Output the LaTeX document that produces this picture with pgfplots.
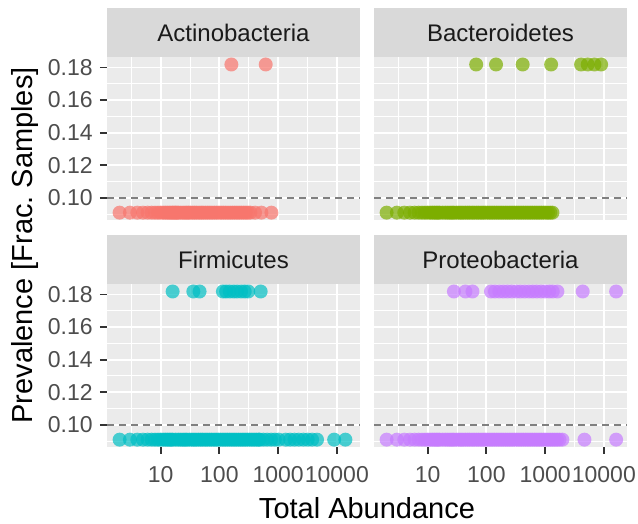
\documentclass[border=0pt]{standalone}
\usepackage{fontspec}
\setmainfont{Liberation Sans}
\usepackage{pgfplots}
\pgfplotsset{compat=1.18}

\definecolor{actino}{HTML}{F8766D}
\definecolor{bactero}{HTML}{7CAE00}
\definecolor{firmi}{HTML}{00BFC4}
\definecolor{proteo}{HTML}{C77CFF}
\definecolor{panelbg}{HTML}{EBEBEB}
\definecolor{stripbg}{HTML}{D9D9D9}
\definecolor{striptext}{HTML}{1A1A1A}
\definecolor{ticktext}{HTML}{4D4D4D}
\definecolor{tickline}{HTML}{333333}
\definecolor{refline}{HTML}{808080}

% settings shared by all four facets
\pgfplotsset{
  scale only axis, width=126.5pt, height=81.5pt,
  xmin=1.22, xmax=24800, ymin=0.0864, ymax=0.1864,
  xtick={10,100,1000,10000}, xticklabels={10,100,1000,10000},
  minor xtick={3.1623,31.623,316.23,3162.3},
  ytick={0.10,0.12,0.14,0.16,0.18},
  minor ytick={0.09,0.11,0.13,0.15,0.17},
  scaled y ticks=false,
  yticklabel style={/pgf/number format/fixed,
    /pgf/number format/fixed zerofill,
    /pgf/number format/precision=2,
    /pgf/number format/assume math mode=true,
    inner sep=3.5pt},
  xticklabel style={inner sep=6pt},
  grid=both,
  major grid style={white, line width=0.9pt},
  minor grid style={white, line width=0.5pt},
  axis line style={draw=none},
  tick pos=left, tick align=outside,
  major tick length=3.5pt, minor tick length=0pt,
  tick style={color=tickline, line width=0.9pt},
  ticklabel style={text=ticktext, font=\fontsize{11.5}{13}\selectfont},
  % facet strip: the default title is lifted by 6pt, take that back
  title style={at={(0.5,1)}, anchor=south, yshift=-6pt, fill=stripbg,
    minimum width=126.5pt, minimum height=24.5pt, inner sep=0pt,
    text height=0.98em, text depth=0pt,
    text=striptext, font=\fontsize{12}{14}\selectfont},
}

\begin{document}
\begin{tikzpicture}
\useasboundingbox (0,0) rectangle (319pt,262pt);

% Actinobacteria
\begin{axis}[xmode=log, at={(53.5pt,152pt)}, anchor=south west,
  axis background/.style={fill=panelbg},
  xmajorticks=false, title={Actinobacteria}]
\addplot[only marks, mark=*, mark size=3.5pt, color=actino,
  mark options={fill=actino, fill opacity=0.7, draw opacity=0}] coordinates {
 (2,0.0909) (3,0.0909) (4,0.0909) (5,0.0909) (6,0.0909) (7,0.0909) (8,0.0909)
 (9,0.0909) (10,0.0909) (11,0.0909) (12,0.0909) (13,0.0909) (14,0.0909)
 (15,0.0909) (16,0.0909) (17,0.0909) (18,0.0909) (19,0.0909) (20,0.0909)
 (22,0.0909) (24,0.0909) (26,0.0909) (28,0.0909) (30,0.0909) (32,0.0909)
 (35,0.0909) (38,0.0909) (41,0.0909) (45,0.0909) (49,0.0909) (53,0.0909)
 (58,0.0909) (63,0.0909) (69,0.0909) (75,0.0909) (82,0.0909) (90,0.0909)
 (98,0.0909) (107,0.0909) (117,0.0909) (128,0.0909) (140,0.0909) (153,0.0909)
 (167,0.0909) (182,0.0909) (199,0.0909) (217,0.0909) (237,0.0909) (259,0.0909)
 (283,0.0909) (309,0.0909) (338,0.0909) (405,0.0909) (520,0.0909) (770,0.0909)
 (160,0.1818) (615,0.1818)
};
\addplot[refline, line width=0.9pt, dash pattern=on 3.4pt off 2.6pt]
  coordinates {(1.22,0.10) (24800,0.10)};
\end{axis}

% Bacteroidetes
\begin{axis}[xmode=log, at={(187pt,152pt)}, anchor=south west,
  axis background/.style={fill=panelbg},
  xmajorticks=false, ymajorticks=false, title={Bacteroidetes}]
\addplot[only marks, mark=*, mark size=3.5pt, color=bactero,
  mark options={fill=bactero, fill opacity=0.7, draw opacity=0}] coordinates {
 (2,0.0909) (3,0.0909) (4,0.0909) (5,0.0909) (6,0.0909) (7,0.0909) (8,0.0909)
 (9,0.0909) (10,0.0909) (11,0.0909) (12,0.0909) (13,0.0909) (14,0.0909)
 (15,0.0909) (16,0.0909) (18,0.0909) (20,0.0909) (22,0.0909) (24,0.0909)
 (26,0.0909) (28,0.0909) (31,0.0909) (34,0.0909) (37,0.0909) (40,0.0909)
 (44,0.0909) (48,0.0909) (52,0.0909) (57,0.0909) (62,0.0909) (68,0.0909)
 (74,0.0909) (81,0.0909) (88,0.0909) (96,0.0909) (105,0.0909) (115,0.0909)
 (125,0.0909) (137,0.0909) (149,0.0909) (163,0.0909) (178,0.0909) (194,0.0909)
 (212,0.0909) (231,0.0909) (252,0.0909) (275,0.0909) (300,0.0909) (328,0.0909)
 (358,0.0909) (391,0.0909) (427,0.0909) (466,0.0909) (509,0.0909) (556,0.0909)
 (607,0.0909) (663,0.0909) (724,0.0909) (790,0.0909) (862,0.0909) (941,0.0909)
 (1027,0.0909) (1121,0.0909) (1224,0.0909) (1336,0.0909)
 (67,0.1818) (146,0.1818) (415,0.1818) (1265,0.1818)
 (4100,0.1818) (5320,0.1818) (6920,0.1818) (9000,0.1818)
};
\addplot[refline, line width=0.9pt, dash pattern=on 3.4pt off 2.6pt]
  coordinates {(1.22,0.10) (24800,0.10)};
\end{axis}

% Firmicutes
\begin{axis}[xmode=log, at={(53.5pt,38.5pt)}, anchor=south west,
  axis background/.style={fill=panelbg},
  title={Firmicutes}]
\addplot[only marks, mark=*, mark size=3.5pt, color=firmi,
  mark options={fill=firmi, fill opacity=0.7, draw opacity=0}] coordinates {
 (2,0.0909) (3,0.0909) (4,0.0909) (5,0.0909) (6,0.0909) (7,0.0909) (8,0.0909)
 (9,0.0909) (10,0.0909) (11,0.0909) (12,0.0909) (13,0.0909) (14,0.0909)
 (15,0.0909) (16,0.0909) (18,0.0909) (20,0.0909) (22,0.0909) (24,0.0909)
 (26,0.0909) (28,0.0909) (31,0.0909) (34,0.0909) (37,0.0909) (40,0.0909)
 (44,0.0909) (48,0.0909) (52,0.0909) (57,0.0909) (62,0.0909) (68,0.0909)
 (74,0.0909) (81,0.0909) (88,0.0909) (96,0.0909) (105,0.0909) (115,0.0909)
 (125,0.0909) (137,0.0909) (149,0.0909) (163,0.0909) (178,0.0909) (194,0.0909)
 (212,0.0909) (231,0.0909) (252,0.0909) (275,0.0909) (300,0.0909) (328,0.0909)
 (358,0.0909) (391,0.0909) (427,0.0909) (466,0.0909) (486,0.0909)
 (560,0.0909) (650,0.0909) (760,0.0909) (880,0.0909) (1020,0.0909)
 (1350,0.0909) (1600,0.0909) (1900,0.0909) (2250,0.0909) (2700,0.0909)
 (3200,0.0909) (3800,0.0909) (4600,0.0909) (9000,0.0909) (14000,0.0909)
 (16,0.1818) (36,0.1818) (46,0.1818) (115,0.1818) (130,0.1818) (150,0.1818)
 (175,0.1818) (200,0.1818) (235,0.1818) (270,0.1818) (310,0.1818) (505,0.1818)
};
\addplot[refline, line width=0.9pt, dash pattern=on 3.4pt off 2.6pt]
  coordinates {(1.22,0.10) (24800,0.10)};
\end{axis}

% Proteobacteria
\begin{axis}[xmode=log, at={(187pt,38.5pt)}, anchor=south west,
  axis background/.style={fill=panelbg},
  ymajorticks=false, title={Proteobacteria}]
\addplot[only marks, mark=*, mark size=3.5pt, color=proteo,
  mark options={fill=proteo, fill opacity=0.7, draw opacity=0}] coordinates {
 (2,0.0909) (3,0.0909) (4,0.0909) (5,0.0909) (6,0.0909) (7,0.0909) (8,0.0909)
 (9,0.0909) (10,0.0909) (11,0.0909) (12,0.0909) (13,0.0909) (14,0.0909)
 (15,0.0909) (16,0.0909) (18,0.0909) (20,0.0909) (22,0.0909) (24,0.0909)
 (26,0.0909) (28,0.0909) (31,0.0909) (34,0.0909) (37,0.0909) (40,0.0909)
 (44,0.0909) (48,0.0909) (52,0.0909) (57,0.0909) (62,0.0909) (68,0.0909)
 (74,0.0909) (81,0.0909) (88,0.0909) (96,0.0909) (105,0.0909) (115,0.0909)
 (125,0.0909) (137,0.0909) (149,0.0909) (163,0.0909) (178,0.0909) (194,0.0909)
 (212,0.0909) (231,0.0909) (252,0.0909) (275,0.0909) (300,0.0909) (328,0.0909)
 (358,0.0909) (391,0.0909) (427,0.0909) (466,0.0909) (509,0.0909) (556,0.0909)
 (607,0.0909) (663,0.0909) (724,0.0909) (790,0.0909) (862,0.0909) (941,0.0909)
 (1027,0.0909) (1121,0.0909) (1224,0.0909) (1336,0.0909) (1460,0.0909)
 (1600,0.0909) (1760,0.0909) (1970,0.0909) (4680,0.0909) (16200,0.0909)
 (28,0.1818) (44,0.1818) (58,0.1818) (120,0.1818) (140,0.1818) (166,0.1818)
 (195,0.1818) (229,0.1818) (270,0.1818) (324,0.1818) (380,0.1818) (447,0.1818)
 (530,0.1818) (617,0.1818) (720,0.1818) (851,0.1818) (1000,0.1818)
 (1175,0.1818) (1350,0.1818) (1620,0.1818) (4370,0.1818) (16200,0.1818)
};
\addplot[refline, line width=0.9pt, dash pattern=on 3.4pt off 2.6pt]
  coordinates {(1.22,0.10) (24800,0.10)};
\end{axis}

% axis titles shared by the four panels
\node[rotate=90, font=\fontsize{14.5}{16}\selectfont] at (12.3pt,139.3pt)
  {Prevalence [Frac.\ Samples]};
\node[anchor=base, font=\fontsize{14.5}{16}\selectfont] at (183.5pt,2.5pt)
  {Total Abundance};
\end{tikzpicture}
\end{document}
